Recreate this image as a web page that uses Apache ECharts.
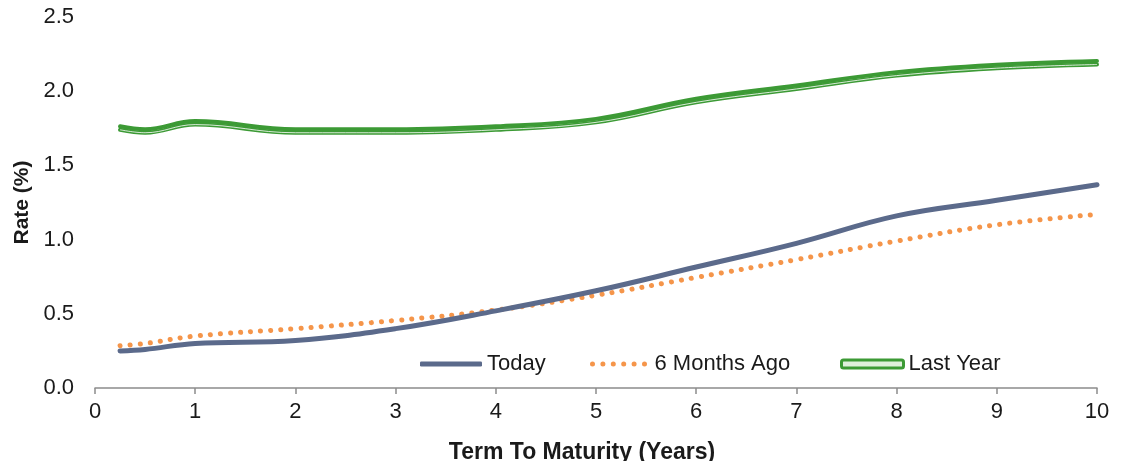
<!DOCTYPE html>
<html>
<head>
<meta charset="utf-8">
<script src="https://cdn.jsdelivr.net/npm/echarts@6/dist/echarts.min.js"></script>
<style>
  html, body { margin: 0; padding: 0; background: #fff; }
  #chart { width: 1126px; height: 461px; }
</style>
</head>
<body>
<div id="chart"></div>
<script>
// Yield curve: term (years) vs rate (%)
const terms = [0.25, 0.5, 1, 2, 3, 4, 5, 6, 7, 8, 9, 10];
const today = [0.25, 0.26, 0.30, 0.32, 0.40, 0.52, 0.655, 0.815, 0.975, 1.16, 1.265, 1.37];
const sixMonthsAgo = [0.285, 0.30, 0.35, 0.40, 0.455, 0.525, 0.625, 0.745, 0.865, 0.99, 1.10, 1.17];
const lastYear = [1.74, 1.72, 1.775, 1.72, 1.72, 1.74, 1.79, 1.925, 2.015, 2.105, 2.155, 2.18];
const xTicks = [0, 1, 2, 3, 4, 5, 6, 7, 8, 9, 10];
const yTicks = [0.0, 0.5, 1.0, 1.5, 2.0, 2.5];
const seriesNames = ['Today', '6 Months Ago', 'Last Year'];

const pairs = (ys) => terms.map((t, i) => [t, ys[i]]);

const FONT = 'Liberation Sans, Arial, sans-serif';
const SLATE = '#5B6A8B';
const ORANGE = '#F5954A';
const GREEN = '#3C9A35';
const TEXT = '#1a1a1a';

// legend glyphs: solid bar, row of dots, outlined bar
const dotsPath = 'path://' + [5, 15.4, 25.8, 36.2, 46.6, 57]
  .map(c => `M${c - 2.5},2.5 A2.5,2.5 0 1,0 ${c + 2.5},2.5 A2.5,2.5 0 1,0 ${c - 2.5},2.5 Z`)
  .join(' ');

const legendText = { fontFamily: FONT, fontSize: 22, color: TEXT };
const legendBase = { top: 348, itemWidth: 62, itemGap: 0, textStyle: legendText, selectedMode: false };

const chart = echarts.init(document.getElementById('chart'), null, { renderer: 'canvas' });

chart.setOption({
  animation: false,
  backgroundColor: '#ffffff',
  grid: { left: 95, right: 29, top: 17, bottom: 73, containLabel: false, outerBoundsMode: 'none' },
  legend: [
    Object.assign({}, legendBase, {
      left: 415, itemHeight: 5,
      data: [{ name: seriesNames[0], icon: 'roundRect', itemStyle: { color: SLATE } }]
    }),
    Object.assign({}, legendBase, {
      left: 585, itemHeight: 5,
      data: [{ name: seriesNames[1], icon: dotsPath, itemStyle: { color: ORANGE } }]
    }),
    Object.assign({}, legendBase, {
      left: 835, itemHeight: 8,
      data: [{ name: seriesNames[2], icon: 'roundRect',
               itemStyle: { color: '#dff0dc', borderColor: GREEN, borderWidth: 3 } }]
    })
  ],
  xAxis: {
    type: 'value',
    min: xTicks[0],
    max: xTicks[xTicks.length - 1],
    interval: 1,
    name: 'Term To Maturity (Years)',
    nameLocation: 'middle',
    nameGap: 53,
    nameTextStyle: { fontFamily: FONT, fontSize: 23, fontWeight: 'bold', color: TEXT, padding: [0, 28, 0, 0] },
    axisLine: { show: true, lineStyle: { color: '#8c8c8c', width: 1.5 } },
    axisTick: { show: true, length: 6, lineStyle: { color: '#8c8c8c', width: 1.5 } },
    axisLabel: { fontFamily: FONT, fontSize: 22, color: TEXT, margin: 13 },
    splitLine: { show: false }
  },
  yAxis: {
    type: 'value',
    min: yTicks[0],
    max: yTicks[yTicks.length - 1],
    interval: 0.5,
    name: 'Rate (%)',
    nameLocation: 'middle',
    nameGap: 60,
    nameTextStyle: { fontFamily: FONT, fontSize: 21, fontWeight: 'bold', color: TEXT },
    axisLine: { show: false },
    axisTick: { show: false },
    axisLabel: {
      fontFamily: FONT, fontSize: 22, color: TEXT, margin: 21,
      formatter: (v) => v.toFixed(1)
    },
    splitLine: { show: false }
  },
  series: [
    {
      name: 'Last Year',
      type: 'line',
      data: pairs(lastYear),
      smooth: 0.4,
      showSymbol: false,
      symbol: 'none',
      color: GREEN,
      lineStyle: {
        color: GREEN, width: 4, cap: 'round', join: 'round',
        shadowColor: GREEN, shadowBlur: 0, shadowOffsetY: -3.5
      },
      z: 3
    },
    {
      name: 'Last Year inner',
      type: 'line',
      data: pairs(lastYear),
      smooth: 0.4,
      showSymbol: false,
      symbol: 'none',
      silent: true,
      color: '#ffffff',
      lineStyle: { color: '#ffffff', width: 1, opacity: 0.8 },
      z: 4
    },
    {
      name: '6 Months Ago',
      type: 'line',
      data: pairs(sixMonthsAgo),
      smooth: 0.4,
      showSymbol: false,
      symbol: 'none',
      color: ORANGE,
      lineStyle: { color: ORANGE, width: 5, type: [0.1, 10], cap: 'round' },
      z: 2
    },
    {
      name: 'Today',
      type: 'line',
      data: pairs(today),
      smooth: 0.4,
      showSymbol: false,
      symbol: 'none',
      color: SLATE,
      lineStyle: { color: SLATE, width: 5, cap: 'round', join: 'round' },
      z: 3
    }
  ]
});
</script>
</body>
</html>
